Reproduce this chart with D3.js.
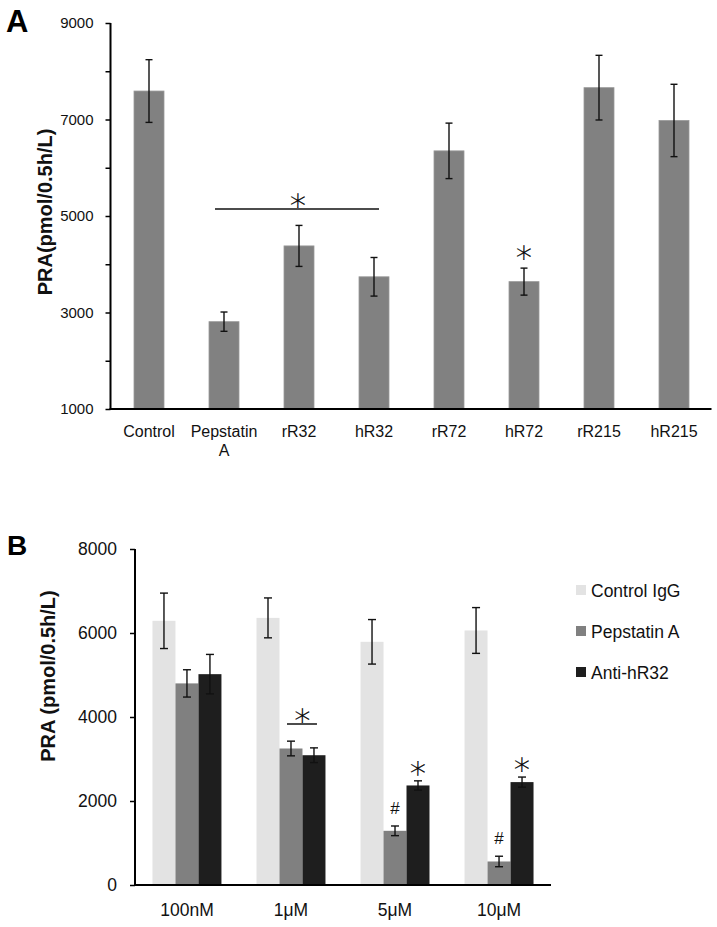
<!DOCTYPE html>
<html>
<head>
<meta charset="utf-8">
<script src="https://cdn.jsdelivr.net/npm/d3@7"></script>
<style>
  html, body { margin: 0; padding: 0; background: #fff; }
  svg { display: block; font-family: "Liberation Sans", Arial, Helvetica, sans-serif; }
</style>
</head>
<body>
<svg id="chart" width="717" height="927"></svg>
<script>
// ---------- Panel A data ----------
const categoriesA = ["Control", "Pepstatin\nA", "rR32", "hR32", "rR72", "hR72", "rR215", "hR215"];
const valuesA = [7590, 2810, 4380, 3740, 6350, 3640, 7660, 6980];
const errorsA = [650, 200, 425, 400, 575, 280, 670, 750];
const yTicksA = [1000, 2000, 3000, 4000, 5000, 6000, 7000, 8000, 9000];
const yLabelsA = [1000, 3000, 5000, 7000, 9000];

// ---------- Panel B data ----------
const groupsB = ["100nM", "1μM", "5μM", "10μM"];
const seriesB = ["Control IgG", "Pepstatin A", "Anti-hR32"];
const controlIgG = [6290, 6360, 5790, 6060];
const controlIgGErr = [660, 475, 530, 545];
const pepstatinA = [4800, 3250, 1290, 560];
const pepstatinAErr = [325, 175, 115, 125];
const antiHR32 = [5020, 3090, 2370, 2450];
const antiHR32Err = [470, 175, 110, 120];
const yTicksB = [0, 2000, 4000, 6000, 8000];
const colorsB = ["#e3e3e3", "#808080", "#1e1e1e"];

const svg = d3.select("#chart");
const FONT = '"Liberation Sans", Arial, Helvetica, sans-serif';
const STAR_FONT = '"DejaVu Sans", sans-serif';

function star(g, x, cy) {
  g.append("text").attr("x", x).attr("y", cy + 18).attr("text-anchor", "middle")
    .attr("transform", `rotate(0.5 ${x} ${cy})`)
    .attr("font-family", STAR_FONT).attr("font-weight", 200).attr("font-size", 32)
    .attr("fill", "#000").attr("stroke", "#000").attr("stroke-width", 0.35).text("*");
}

// ================= PANEL A =================
const xA = d3.scaleBand().domain(categoriesA).range([111.5, 711.5]).paddingInner(0.6).paddingOuter(0.3);
const yA = d3.scaleLinear().domain([1000, 9000]).range([409, 23]);
const gA = svg.append("g");

gA.selectAll("rect.barA").data(valuesA).join("rect")
  .attr("class", "barA")
  .attr("x", (d, i) => xA(categoriesA[i]))
  .attr("width", xA.bandwidth())
  .attr("y", d => yA(d))
  .attr("height", d => yA(1000) - yA(d))
  .attr("fill", "#818181")
  .attr("stroke", "#9a9a9a").attr("stroke-width", 0.8);

const errA = gA.selectAll("g.errA").data(valuesA).join("g").attr("class", "errA");
errA.each(function(d, i) {
  const cx = xA(categoriesA[i]) + xA.bandwidth() / 2;
  const top = yA(d + errorsA[i]), bot = yA(d - errorsA[i]);
  const g = d3.select(this);
  g.append("line").attr("x1", cx).attr("x2", cx).attr("y1", top).attr("y2", bot);
  g.append("line").attr("x1", cx - 3.5).attr("x2", cx + 3.5).attr("y1", top).attr("y2", top);
  g.append("line").attr("x1", cx - 3.5).attr("x2", cx + 3.5).attr("y1", bot).attr("y2", bot);
});
errA.selectAll("line").attr("stroke", "#111").attr("stroke-width", 1.4);

const axisA = d3.axisLeft(yA).tickValues(yTicksA).tickSize(5).tickPadding(12)
  .tickFormat(d => yLabelsA.includes(d) ? d3.format("d")(d) : "");
const gAxA = gA.append("g").attr("transform", "translate(110.5,0)").call(axisA);
gAxA.select(".domain").attr("stroke", "#000").attr("stroke-width", 2).attr("d", `M0,${yA(9000)}V${yA(1000) + 1}`);
gAxA.selectAll(".tick line").attr("stroke", "#000").attr("stroke-width", 1.5);
gAxA.selectAll(".tick text").attr("font-family", FONT).attr("font-size", 15).attr("fill", "#111");

gA.append("line").attr("x1", 109.5).attr("x2", xA.range()[1]).attr("y1", yA(1000)).attr("y2", yA(1000))
  .attr("stroke", "#000").attr("stroke-width", 2);

categoriesA.forEach(c => {
  const lines = c.split("\n");
  const t = gA.append("text").attr("x", xA(c) + xA.bandwidth() / 2).attr("y", 437)
    .attr("text-anchor", "middle").attr("font-size", 16).attr("fill", "#111");
  lines.forEach((l, j) => t.append("tspan").attr("x", xA(c) + xA.bandwidth() / 2).attr("dy", j === 0 ? 0 : 18.5).text(l));
});

gA.append("text").attr("transform", "translate(52,212) rotate(-90)")
  .attr("text-anchor", "middle").attr("font-size", 20).attr("font-weight", "bold").attr("fill", "#111")
  .text("PRA(pmol/0.5h/L)");

svg.append("text").attr("x", 6).attr("y", 32).attr("font-size", 31).attr("font-weight", "bold").attr("fill", "#000").text("A");

// significance A
gA.append("line").attr("x1", xA("Pepstatin\nA") + 6).attr("x2", xA("hR32") + 20).attr("y1", 209).attr("y2", 209)
  .attr("stroke", "#111").attr("stroke-width", 1.5);
star(gA, xA("rR32") + xA.bandwidth() / 2 - 1, 199);
star(gA, xA("hR72") + xA.bandwidth() / 2, yA(valuesA[5] + errorsA[5]) - 17);

// ================= PANEL B =================
const xB = d3.scaleBand().domain(groupsB).range([135, 551]).paddingInner(0.337).paddingOuter(0.168);
const xSub = d3.scaleBand().domain(seriesB).range([0, xB.bandwidth()]).padding(0);
const yB = d3.scaleLinear().domain([0, 8000]).range([885, 549]);
const gB = svg.append("g");

const valsB = [controlIgG, pepstatinA, antiHR32];
const errsB = [controlIgGErr, pepstatinAErr, antiHR32Err];
const tableB = [];
groupsB.forEach((g, gi) => seriesB.forEach((s, si) => tableB.push({ g, s, si, v: valsB[si][gi], e: errsB[si][gi] })));

gB.selectAll("rect.barB").data(tableB).join("rect")
  .attr("class", "barB")
  .attr("x", d => xB(d.g) + xSub(d.s))
  .attr("width", xSub.bandwidth())
  .attr("y", d => yB(d.v))
  .attr("height", d => yB(0) - yB(d.v))
  .attr("fill", d => colorsB[d.si]);

const errB = gB.selectAll("g.errB").data(tableB).join("g").attr("class", "errB");
errB.each(function(d) {
  const cx = xB(d.g) + xSub(d.s) + xSub.bandwidth() / 2;
  const top = yB(d.v + d.e), bot = yB(d.v - d.e);
  const g = d3.select(this);
  g.append("line").attr("x1", cx).attr("x2", cx).attr("y1", top).attr("y2", bot);
  g.append("line").attr("x1", cx - 4).attr("x2", cx + 4).attr("y1", top).attr("y2", top);
  g.append("line").attr("x1", cx - 4).attr("x2", cx + 4).attr("y1", bot).attr("y2", bot);
});
errB.selectAll("line").attr("stroke", "#111").attr("stroke-width", 1.4);

const axisB = d3.axisLeft(yB).tickValues(yTicksB).tickSize(5).tickPadding(13).tickFormat(d3.format("d"));
const gAxB = gB.append("g").attr("transform", "translate(135,0)").call(axisB);
gAxB.select(".domain").attr("stroke", "#000").attr("stroke-width", 2).attr("d", `M0,${yB(8000)}V${yB(0) + 1}`);
gAxB.selectAll(".tick line").attr("stroke", "#000").attr("stroke-width", 1.5);
gAxB.selectAll(".tick text").attr("font-family", FONT).attr("font-size", 17.5).attr("fill", "#111");

gB.append("line").attr("x1", 134).attr("x2", xB.range()[1]).attr("y1", yB(0)).attr("y2", yB(0))
  .attr("stroke", "#000").attr("stroke-width", 2);

gB.selectAll("text.xlabB").data(groupsB).join("text").attr("class", "xlabB")
  .attr("x", d => xB(d) + xB.bandwidth() / 2).attr("y", 916)
  .attr("text-anchor", "middle").attr("font-size", 17.5).attr("fill", "#111").text(d => d);

gB.append("text").attr("transform", "translate(55,676) rotate(-90)")
  .attr("text-anchor", "middle").attr("font-size", 20).attr("font-weight", "bold").attr("fill", "#111")
  .text("PRA (pmol/0.5h/L)");

svg.append("text").attr("x", 7).attr("y", 555).attr("font-size", 28).attr("font-weight", "bold").attr("fill", "#000").text("B");

const legY = [590, 631, 672];
seriesB.forEach((s, i) => {
  gB.append("rect").attr("x", 576).attr("y", legY[i] - 5).attr("width", 10).attr("height", 10).attr("fill", colorsB[i]);
  gB.append("text").attr("x", 591).attr("y", legY[i] + 6.5).attr("font-size", 17.5).attr("fill", "#111").text(s);
});

// significance B
const pepX = g => xB(g) + xSub("Pepstatin A") + xSub.bandwidth() / 2;
const antiX = g => xB(g) + xSub("Anti-hR32") + xSub.bandwidth() / 2;
gB.append("line").attr("x1", pepX("1μM") - 4).attr("x2", antiX("1μM") + 3).attr("y1", 724).attr("y2", 724)
  .attr("stroke", "#111").attr("stroke-width", 1.5);
star(gB, (pepX("1μM") + antiX("1μM")) / 2, 714);
["5μM", "10μM"].forEach(g => {
  const i = groupsB.indexOf(g);
  star(gB, antiX(g), yB(antiHR32[i] + antiHR32Err[i]) - 14);
  gB.append("text").attr("x", pepX(g)).attr("y", yB(pepstatinA[i] + pepstatinAErr[i]) - 12).attr("text-anchor", "middle")
    .attr("font-size", 17).attr("fill", "#111").text("#");
});
</script>
</body>
</html>
